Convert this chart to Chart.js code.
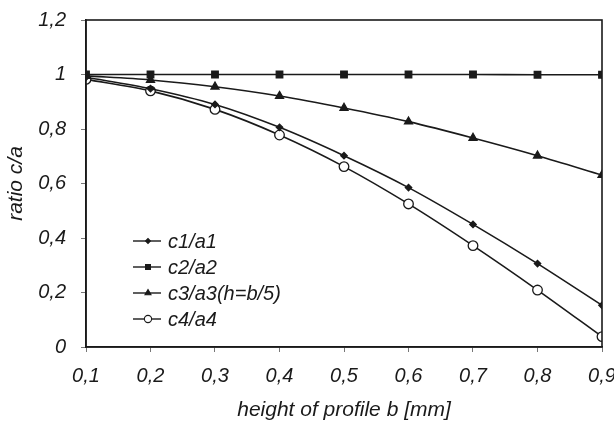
<!DOCTYPE html>
<html>
<head>
<meta charset="utf-8">
<script src="https://cdn.jsdelivr.net/npm/chart.js@4/dist/chart.umd.min.js"></script>
<style>
    html, body { margin: 0; padding: 0; background: #fff; }
    #wrap { width: 614px; height: 426px; position: relative; }
</style>
</head>
<body>
<div id="wrap"><canvas id="chart"></canvas></div>
<script>
// height of profile b [mm]
const heights = [0.1, 0.2, 0.3, 0.4, 0.5, 0.6, 0.7, 0.8, 0.9];

// ratio c/a per series
const c1a1 = [0.99, 0.948, 0.89, 0.806, 0.702, 0.585, 0.45, 0.306, 0.153];
const c2a2 = [1.0, 1.0, 1.0, 1.0, 1.0, 1.0, 1.0, 0.999, 0.999];
const c3a3 = [0.995, 0.98, 0.955, 0.921, 0.877, 0.827, 0.767, 0.702, 0.631];
const c4a4 = [0.982, 0.94, 0.872, 0.778, 0.662, 0.525, 0.372, 0.209, 0.038];

const seriesNames = ['c1/a1', 'c2/a2', 'c3/a3(h=b/5)', 'c4/a4'];

const INK = '#1a1a1a';
const FONT = "'Liberation Sans', Arial, sans-serif";

const toPoints = (ys) => heights.map((x, i) => ({ x, y: ys[i] }));
const commaNum = (v) => String(Math.round(v * 10) / 10).replace('.', ',');

const makeSet = (label, ys, style, radius, fill) => ({
    label,
    data: toPoints(ys),
    borderColor: INK,
    borderWidth: 1.6,
    pointStyle: style,
    pointRadius: radius,
    pointBorderColor: INK,
    pointBackgroundColor: fill,
    pointBorderWidth: 1.3,
    tension: 0.3,
    fill: false,
});

// plot frame + legend inside the plot area
const framePlugin = {
    id: 'frame',
    afterDatasetsDraw(chart) {
        const { ctx, chartArea: a } = chart;
        ctx.save();
        ctx.strokeStyle = INK;
        ctx.lineWidth = 1.6;
        ctx.strokeRect(a.left, a.top, a.right - a.left, a.bottom - a.top);

        ctx.font = "italic 20px " + FONT;
        ctx.textBaseline = 'middle';
        ctx.fillStyle = INK;
        chart.data.datasets.forEach((ds, i) => {
            const y = 241 + i * 26;
            ctx.lineWidth = 1.4;
            ctx.beginPath();
            ctx.moveTo(133, y);
            ctx.lineTo(161, y);
            ctx.stroke();
            ctx.fillStyle = ds.pointBackgroundColor;
            ctx.lineWidth = 1.1;
            Chart.helpers.drawPoint(ctx, {
                pointStyle: ds.pointStyle,
                radius: ds.pointRadius * 0.75,
                rotation: 0,
                borderWidth: 1.1,
            }, 148, y);
            ctx.fillStyle = INK;
            ctx.fillText(ds.label, 168, y + 1);
        });
        ctx.restore();
    },
};

new Chart(document.getElementById('chart'), {
    type: 'line',
    data: {
        datasets: [
            makeSet(seriesNames[0], c1a1, 'rectRot', 3.2, INK),
            makeSet(seriesNames[1], c2a2, 'rect', 4.6, INK),
            makeSet(seriesNames[2], c3a3, 'triangle', 4.6, INK),
            makeSet(seriesNames[3], c4a4, 'circle', 4.8, '#fff'),
        ],
    },
    options: {
        responsive: true,
        maintainAspectRatio: false,
        animation: false,
        layout: { padding: { top: 20, right: 12, left: 0, bottom: 0 } },
        plugins: {
            legend: { display: false },
            tooltip: { enabled: false },
        },
        scales: {
            x: {
                type: 'linear',
                min: 0.1,
                max: 0.9,
                ticks: {
                    stepSize: 0.1,
                    color: INK,
                    padding: 12,
                    font: { family: FONT, size: 20, style: 'italic' },
                    callback: (v) => commaNum(v),
                },
                grid: { drawOnChartArea: false, tickLength: 5, color: '#777', tickWidth: 1 },
                border: { color: INK, width: 1.6 },
                title: {
                    display: true,
                    text: 'height of profile b [mm]',
                    color: INK,
                    padding: { bottom: 3, top: 0 },
                    font: { family: FONT, size: 21, style: 'italic' },
                },
                afterFit(scale) {
                    scale.height = 79;
                    scale.paddingLeft = 0;
                    scale.paddingRight = 0;
                },
            },
            y: {
                min: 0,
                max: 1.2,
                ticks: {
                    stepSize: 0.2,
                    color: INK,
                    padding: 15,
                    font: { family: FONT, size: 20, style: 'italic' },
                    callback: (v) => commaNum(v),
                },
                grid: { drawOnChartArea: false, tickLength: 5, color: '#777', tickWidth: 1 },
                border: { color: INK, width: 1.6 },
                title: {
                    display: true,
                    text: 'ratio c/a',
                    color: INK,
                    padding: { top: 4, bottom: 0 },
                    font: { family: FONT, size: 21, style: 'italic' },
                },
                afterFit(scale) {
                    scale.width = 86;
                    scale.paddingTop = 0;
                    scale.paddingBottom = 0;
                },
            },
        },
    },
    plugins: [framePlugin],
});
</script>
</body>
</html>
